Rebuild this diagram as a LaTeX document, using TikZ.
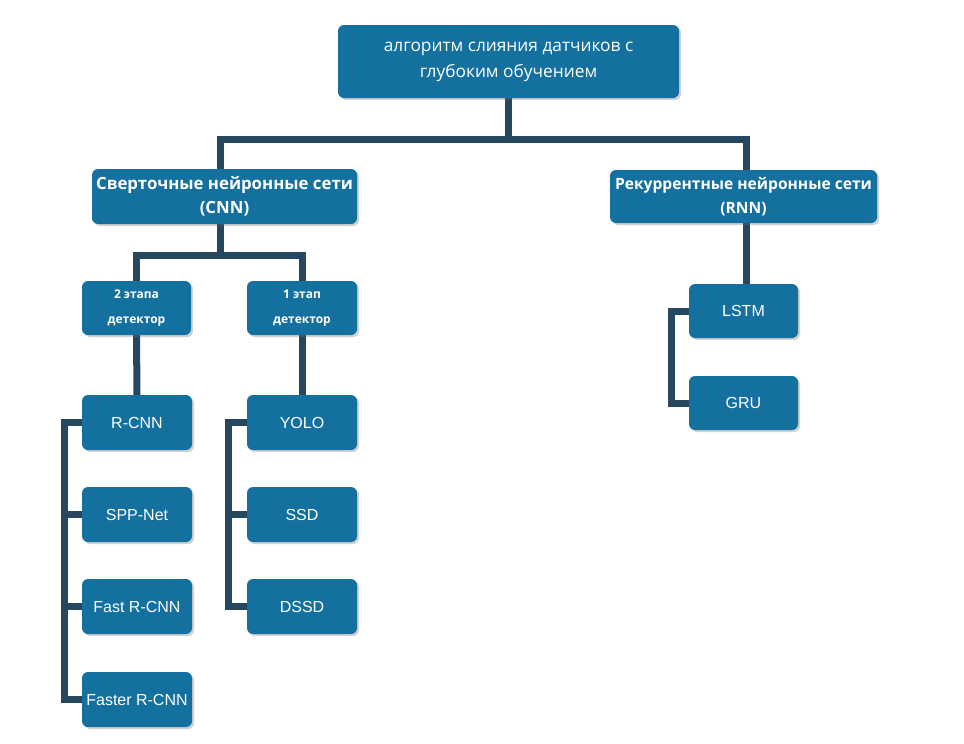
\documentclass[tikz,border=0pt]{standalone}
\usepackage{fontspec}
\setmainfont{Open Sans}
\newfontfamily\arialf{Liberation Sans}
\usetikzlibrary{shadows,backgrounds}
\definecolor{boxblue}{HTML}{14709E}
\definecolor{linecol}{HTML}{25475F}
\tikzset{
  box/.style={draw=none, fill=boxblue, rounded corners=6pt, text=white, align=center,
    inner sep=0pt, drop shadow={shadow xshift=2pt, shadow yshift=-2pt, opacity=0.3, fill=black!60}},
  conn/.style={draw=linecol, line width=7pt, line join=miter}
}
\begin{document}
\begin{tikzpicture}[x=1pt,y=-1pt]
\useasboundingbox (0,0) rectangle (964,744);
\node[box, minimum width=341pt, minimum height=73pt, font=\fontsize{17.3}{26}\selectfont] (top) at (508.5,61.5) {алгоритм слияния датчиков с\\глубоким обучением};
\node[box, minimum width=265pt, minimum height=55pt, font=\bfseries\fontsize{16.8}{24}\selectfont] (cnn) at (224.5,196.5) {Сверточные нейронные сети\\(CNN)};
\node[box, minimum width=267pt, minimum height=53pt, font=\bfseries\fontsize{15.6}{24}\selectfont] (rnn) at (743.5,196.5) {Рекуррентные нейронные сети\\(RNN)};
\node[box, minimum width=109pt, minimum height=54pt, font=\bfseries\fontsize{12}{25}\selectfont] (det2) at (136.5,308) {2 этапа\\детектор};
\node[box, minimum width=110pt, minimum height=54pt, font=\bfseries\fontsize{12}{25}\selectfont] (det1) at (302,308) {1 этап\\детектор};
\tikzset{leaf/.style={box, minimum width=110pt, minimum height=55pt, font=\arialf\fontsize{16}{18}\selectfont}}
\node[leaf] (rcnn) at (137,422.5) {R-CNN};
\node[leaf] (spp) at (137,514.5) {SPP-Net};
\node[leaf] (fast) at (137,606.5) {Fast R-CNN};
\node[leaf] (faster) at (137,699.5) {Faster R-CNN};
\node[leaf] (yolo) at (302,422.5) {YOLO};
\node[leaf] (ssd) at (302,514.5) {SSD};
\node[leaf] (dssd) at (302,606.5) {DSSD};
\node[leaf, minimum width=109pt, minimum height=54pt] (lstm) at (743.5,311) {LSTM};
\node[leaf, minimum width=109pt, minimum height=54pt] (gru) at (743.5,403) {GRU};
\coordinate (bus) at (0,139);
\coordinate (bus2) at (0,255);
\coordinate (lb) at (64,0);
\coordinate (rb) at (228,0);
\coordinate (gb) at (671,0);
\begin{pgfonlayer}{background}
\draw[conn] (top.south) -- (top.south |- bus);
\draw[conn] ([xshift=-4pt]cnn.north) -- ([xshift=-4pt]cnn.north |- bus) -- ([xshift=3pt]rnn.north |- bus) -- ([xshift=3pt]rnn.north);
\draw[conn] ([xshift=-4pt]cnn.south) -- ([xshift=-4pt]cnn.south |- bus2);
\draw[conn] (det2.north) -- (det2.north |- bus2) -- (det1.north |- bus2) -- (det1.north);
\draw[conn] (det2.south) -- (rcnn.north);
\draw[conn] (det1.south) -- (yolo.north);
\draw[conn] ([xshift=3pt]rnn.south) -- ([xshift=3pt]lstm.north);
\draw[conn] (rcnn.west) -- (rcnn.west -| lb) -- (faster.west -| lb) -- (faster.west);
\draw[conn] (spp.west -| lb) -- (spp.west);
\draw[conn] (fast.west -| lb) -- (fast.west);
\draw[conn] (yolo.west) -- (yolo.west -| rb) -- (dssd.west -| rb) -- (dssd.west);
\draw[conn] (ssd.west -| rb) -- (ssd.west);
\draw[conn] (lstm.west) -- (lstm.west -| gb) -- (gru.west -| gb) -- (gru.west);
\end{pgfonlayer}
\end{tikzpicture}
\end{document}
